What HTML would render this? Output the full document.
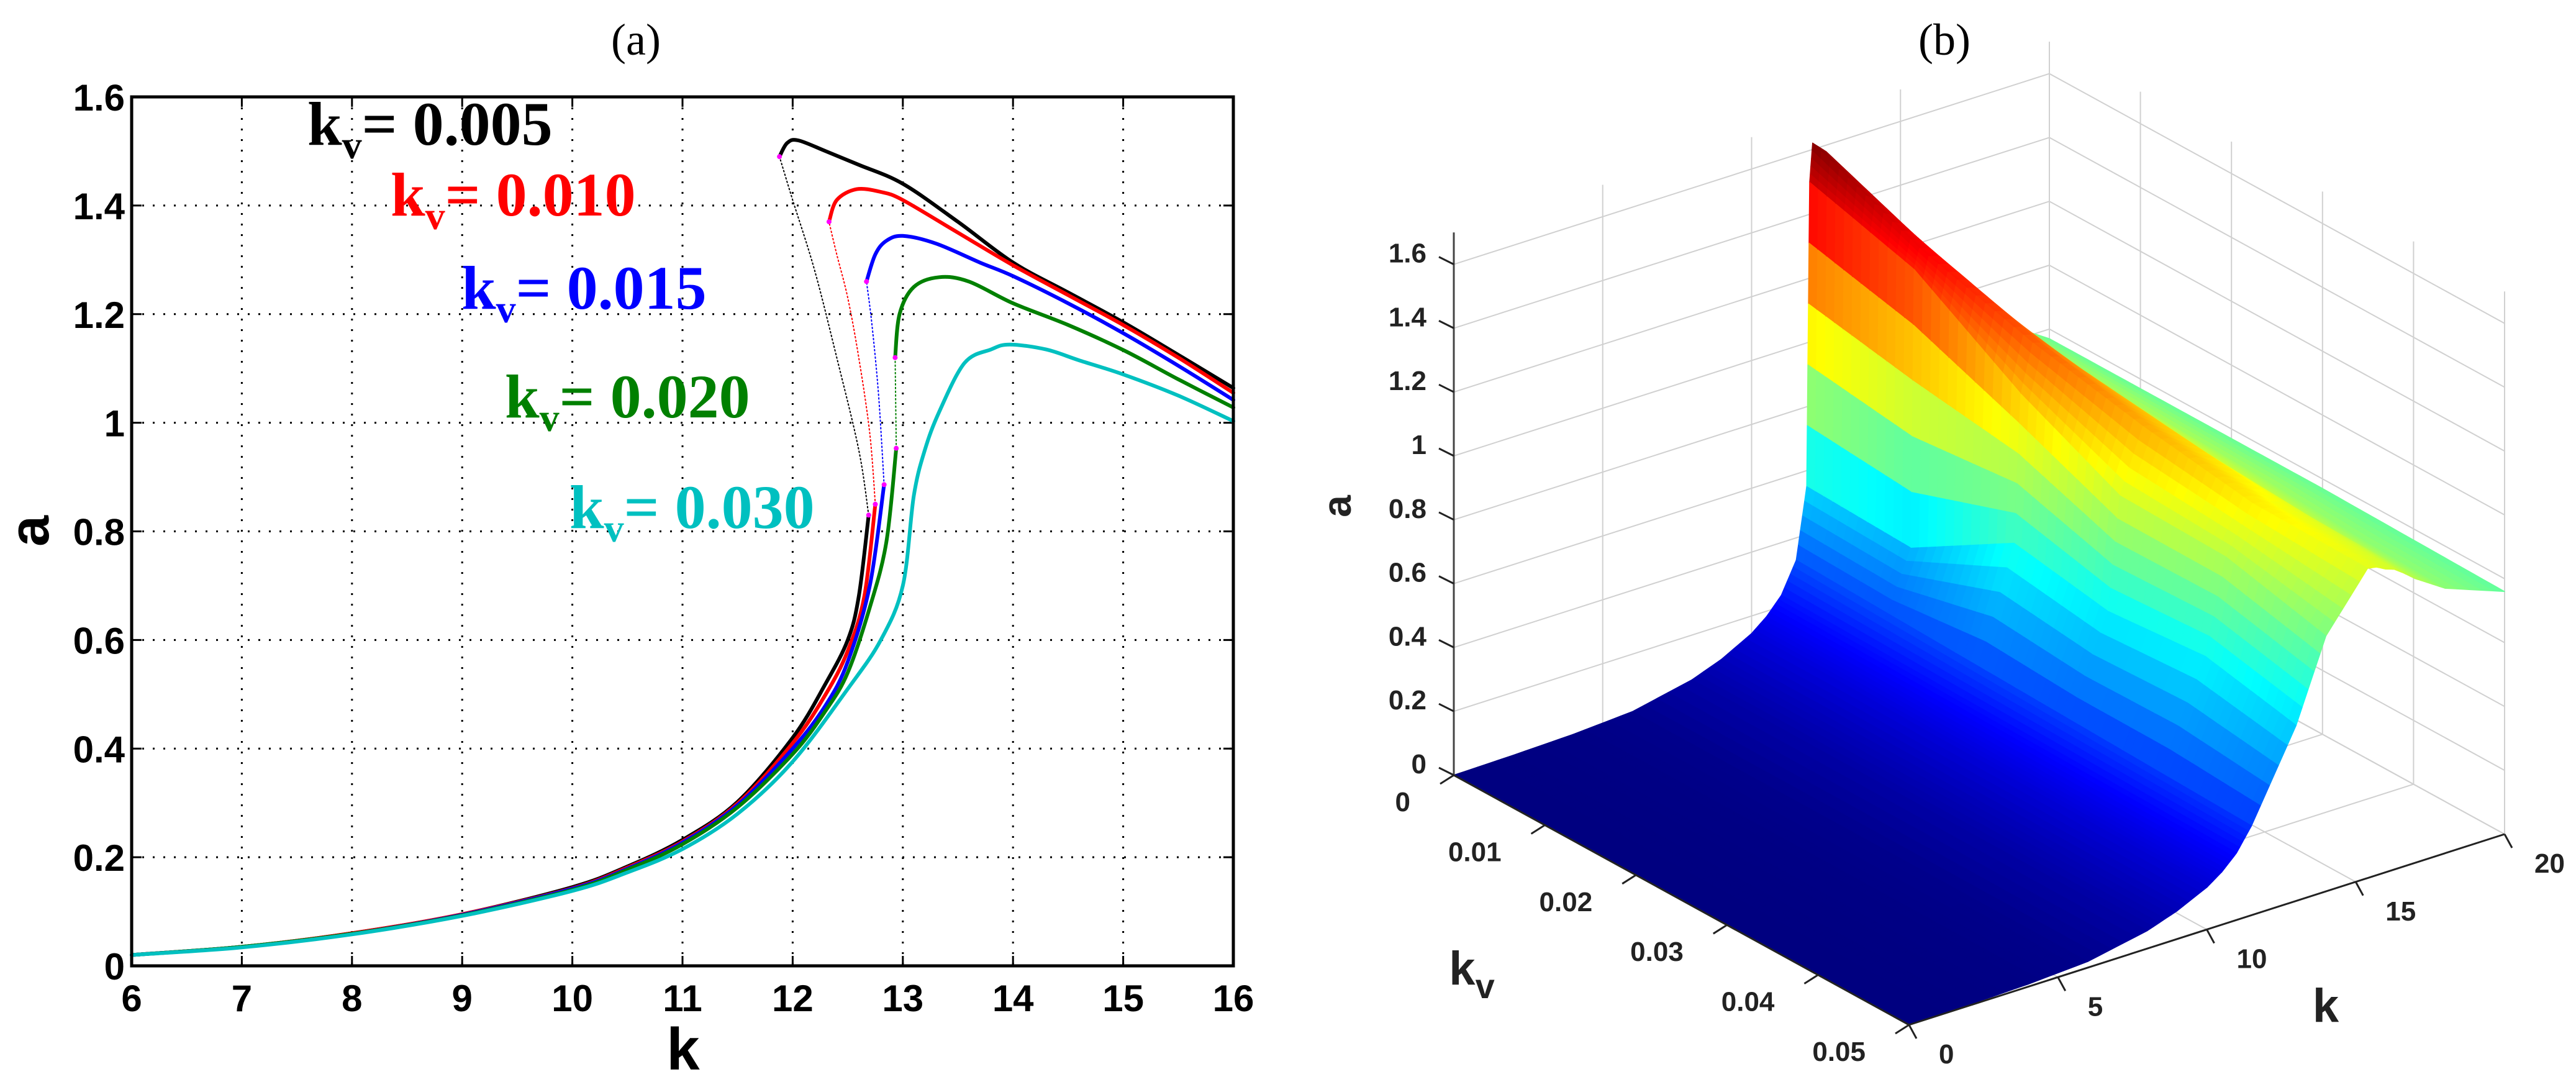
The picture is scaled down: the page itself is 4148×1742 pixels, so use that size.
<!DOCTYPE html>
<html><head><meta charset="utf-8"><style>
html,body{margin:0;padding:0;background:#fff;}
svg{display:block;}
</style></head><body>
<svg id="fig" xmlns="http://www.w3.org/2000/svg" width="4148" height="1742" viewBox="0 0 4148 1742">
<rect width="4148" height="1742" fill="#fff"/>
<g id="left"></g>
<g id="right"></g>
</svg>
<script>
// ---------- Panel (a) data ----------
const xTicks = [6,7,8,9,10,11,12,13,14,15,16];
const yTicks = [0,0.2,0.4,0.6,0.8,1,1.2,1.4,1.6];
const yTickLabels = ["0","0.2","0.4","0.6","0.8","1","1.2","1.4","1.6"];
const seriesNames = ["kv-0.005","kv-0.010","kv-0.015","kv-0.020","kv-0.030"];
const seriesColors = ["#000000","#ff0000","#0000ff","#008000","#00c0c0"];
const legendValues = ["0.005","0.010","0.015","0.020","0.030"];
const k005Lower = [6,7,8,9,10,10.5,11,11.5,12,12.3,12.5,12.6,12.69];
const a005Lower = [0.02,0.035,0.06,0.095,0.145,0.183,0.232,0.302,0.42,0.52,0.6,0.68,0.83];
const k005Unst = [12.69,12.6,12.4,12.2,12.0,11.88];
const a005Unst = [0.83,0.95,1.12,1.28,1.41,1.49];
const k005Upper = [11.88,11.95,12.05,12.3,12.6,13,13.5,14,14.5,15,15.5,16];
const a005Upper = [1.49,1.515,1.52,1.5,1.475,1.44,1.37,1.295,1.24,1.185,1.125,1.064];
const k010Lower = [6,7,8,9,10,10.5,11,11.5,12,12.3,12.5,12.65,12.75];
const a010Lower = [0.02,0.035,0.06,0.095,0.143,0.181,0.229,0.299,0.41,0.5,0.58,0.68,0.85];
const k010Unst = [12.75,12.7,12.6,12.5,12.4,12.33];
const a010Unst = [0.85,0.98,1.12,1.23,1.31,1.37];
const k010Upper = [12.33,12.4,12.58,12.8,13,13.5,14,14.5,15,15.5,16];
const a010Upper = [1.37,1.41,1.43,1.425,1.41,1.35,1.29,1.235,1.18,1.12,1.055];
const k015Lower = [6,7,8,9,10,10.5,11,11.5,12,12.3,12.5,12.7,12.83];
const a015Lower = [0.02,0.035,0.059,0.094,0.142,0.179,0.227,0.296,0.4,0.48,0.56,0.7,0.886];
const k015Unst = [12.83,12.78,12.72,12.67];
const a015Unst = [0.886,1.05,1.18,1.26];
const k015Upper = [12.67,12.75,12.85,13.0,13.3,13.7,14,14.5,15,15.5,16];
const a015Upper = [1.26,1.31,1.335,1.344,1.33,1.295,1.27,1.22,1.165,1.105,1.042];
const k020Lower = [6,7,8,9,10,10.5,11,11.5,12,12.3,12.5,12.7,12.85,12.94];
const a020Lower = [0.02,0.035,0.059,0.093,0.14,0.177,0.224,0.292,0.39,0.47,0.54,0.66,0.78,0.953];
const k020Unst = [12.94,12.93];
const a020Unst = [0.953,1.12];
const k020Upper = [12.93,12.97,13.1,13.33,13.6,14,14.5,15,15.5,16];
const a020Upper = [1.12,1.2,1.25,1.268,1.26,1.22,1.18,1.134,1.08,1.028];
const k030 = [6,7,8,9,10,10.5,11,11.5,12,12.5,12.8,13,13.1,13.2,13.33,13.56,13.8,13.97,14.3,14.6,15,15.5,16];
const a030 = [0.02,0.034,0.058,0.092,0.138,0.172,0.215,0.28,0.376,0.51,0.6,0.7,0.866,0.95,1.02,1.11,1.135,1.144,1.135,1.115,1.089,1.05,1.003];

// ---------- Panel (b) data ----------
const zTicks = [0,0.2,0.4,0.6,0.8,1,1.2,1.4,1.6];
const zTickLabels = ["0","0.2","0.4","0.6","0.8","1","1.2","1.4","1.6"];
const kvTicks = [0,0.01,0.02,0.03,0.04,0.05];
const kvTickLabels = ["0","0.01","0.02","0.03","0.04","0.05"];
const kTicks3 = [0,5,10,15,20];
const kTickLabels3 = ["0","5","10","15","20"];
const surfKv = [0,0.01,0.02,0.03,0.04,0.05];
const surfK0 = [0,2,4,6,8,9,10,10.5,11,11.5,11.85,11.95,12.05,12.5,13,14,15,16,17,18,20];
const surfA0 = [0,0.003,0.008,0.02,0.06,0.095,0.145,0.183,0.235,0.33,0.55,1.5,1.62,1.58,1.5,1.34,1.19,1.07,0.97,0.89,0.77];
const surfK1 = [0,2,4,6,8,9,10,10.5,11,11.5,12.3,12.4,12.58,12.9,13.3,14,15,16,17,18,20];
const surfA1 = [0,0.003,0.008,0.02,0.06,0.095,0.145,0.181,0.23,0.32,0.5,1.37,1.43,1.42,1.38,1.29,1.18,1.055,0.96,0.88,0.77];
const surfK2 = [0,2,4,6,8,9,10,10.5,11,11.5,12.7,12.93,13.33,13.6,13.9,14.3,15,16,17,18,20];
const surfA2 = [0,0.003,0.008,0.02,0.059,0.093,0.14,0.177,0.225,0.31,0.66,1.12,1.268,1.26,1.23,1.2,1.134,1.028,0.94,0.87,0.77];
const surfK3 = [0,2,4,6,8,9,10,10.5,11,11.5,12.8,13.2,13.97,14.2,14.5,14.8,15.2,16,17,18,20];
const surfA3 = [0,0.003,0.008,0.02,0.058,0.092,0.138,0.172,0.22,0.3,0.6,0.95,1.144,1.14,1.12,1.1,1.08,1.003,0.92,0.86,0.77];
const surfK4 = [0,2,4,6,8,9,10,10.5,11,11.5,13,13.7,14.6,14.9,15.2,15.5,15.8,16.3,17,18,20];
const surfA4 = [0,0.003,0.008,0.019,0.057,0.09,0.135,0.168,0.215,0.29,0.61,0.9,1.04,1.035,1.02,1.0,0.99,0.96,0.9,0.84,0.765];
const surfK5 = [0,2,4,6,8,9,10,10.5,11,11.5,13,14,15.4,15.7,16,16.3,16.6,17,17.5,18,20];
const surfA5 = [0,0.003,0.008,0.019,0.056,0.088,0.132,0.165,0.21,0.28,0.55,0.8,0.97,0.965,0.95,0.94,0.92,0.89,0.86,0.83,0.76];
const surfKRows = [surfK0,surfK1,surfK2,surfK3,surfK4,surfK5];
const surfARows = [surfA0,surfA1,surfA2,surfA3,surfA4,surfA5];

const NS = "http://www.w3.org/2000/svg";
function mk(parent, tag, attrs, text){
  const e = document.createElementNS(NS, tag);
  for (const k in attrs) e.setAttribute(k, attrs[k]);
  if (text !== undefined) e.textContent = text;
  parent.appendChild(e);
  return e;
}

// ================= Panel (a) =================
const L = document.getElementById('left');
const X0=212, X1=1986, Y0=1555, Y1=156;
const xs = k => X0 + (k-6)*(X1-X0)/10;
const ys = a => Y0 - a*(Y0-Y1)/1.6;

let t = mk(L,'text',{x:1024,y:88,'font-family':'"Liberation Serif", serif','font-size':72,'text-anchor':'middle'},'(a)');



const grid = mk(L,'g',{});


xTicks.slice(1,-1).forEach(k=>{
  const l = mk(grid,'line',{x1:xs(k),y1:Y1,x2:xs(k),y2:Y0,stroke:'#000','stroke-width':3,'stroke-dasharray':'3 14'});
  
  
});
yTicks.slice(1,-1).forEach(a=>{
  const l = mk(grid,'line',{x1:X0,y1:ys(a),x2:X1,y2:ys(a),stroke:'#000','stroke-width':3,'stroke-dasharray':'3 14'});
  
  
});
xTicks.forEach(k=>{
  let l = mk(L,'line',{x1:xs(k),y1:Y0,x2:xs(k),y2:Y0-16,stroke:'#000','stroke-width':3});
  
  
  l = mk(L,'line',{x1:xs(k),y1:Y1,x2:xs(k),y2:Y1+16,stroke:'#000','stroke-width':3});
  
  
  const tx = mk(L,'text',{x:xs(k),y:1628,'font-family':'"Liberation Sans", sans-serif','font-weight':'bold','font-size':60,'text-anchor':'middle'},String(k));
  
  
});
yTicks.forEach((a,i)=>{
  let l = mk(L,'line',{x1:X0,y1:ys(a),x2:X0+16,y2:ys(a),stroke:'#000','stroke-width':3});
  
  
  l = mk(L,'line',{x1:X1,y1:ys(a),x2:X1-16,y2:ys(a),stroke:'#000','stroke-width':3});
  
  
  const tx = mk(L,'text',{x:201,y:ys(a)+22,'font-family':'"Liberation Sans", sans-serif','font-weight':'bold','font-size':60,'text-anchor':'end'},yTickLabels[i]);
  
  
});
t = mk(L,'text',{x:1100,y:1722,'font-family':'"Liberation Sans", sans-serif','font-weight':'bold','font-size':96,'text-anchor':'middle'},'k');


t = mk(L,'text',{x:0,y:0,'font-family':'"Liberation Sans", sans-serif','font-weight':'bold','font-size':90,'text-anchor':'middle',transform:'translate(78,855) rotate(-90)'},'a');



function smoothPath(ks, as){
  const p = ks.map((k,i)=>[xs(k), ys(as[i])]);
  if (p.length < 3) return 'M'+p.map(q=>q[0].toFixed(1)+','+q[1].toFixed(1)).join(' L');
  let d = 'M'+p[0][0].toFixed(1)+','+p[0][1].toFixed(1);
  for (let i=0;i<p.length-1;i++){
    const p0=p[Math.max(0,i-1)], p1=p[i], p2=p[i+1], p3=p[Math.min(p.length-1,i+2)];
    const c1=[p1[0]+(p2[0]-p0[0])/6, p1[1]+(p2[1]-p0[1])/6];
    const c2=[p2[0]-(p3[0]-p1[0])/6, p2[1]-(p3[1]-p1[1])/6];
    d += ' C'+c1[0].toFixed(1)+','+c1[1].toFixed(1)+' '+c2[0].toFixed(1)+','+c2[1].toFixed(1)+' '+p2[0].toFixed(1)+','+p2[1].toFixed(1);
  }
  return d;
}
function curve(g, ks, as, color, w, dash, name){
  const p = mk(g,'path',{d:smoothPath(ks,as),fill:'none',stroke:color,'stroke-width':w,'stroke-linejoin':'round','stroke-linecap':'round'});
  if (dash) p.setAttribute('stroke-dasharray', dash);
  
  
}
const seriesData = [
  [k005Lower,a005Lower,k005Unst,a005Unst,k005Upper,a005Upper],
  [k010Lower,a010Lower,k010Unst,a010Unst,k010Upper,a010Upper],
  [k015Lower,a015Lower,k015Unst,a015Unst,k015Upper,a015Upper],
  [k020Lower,a020Lower,k020Unst,a020Unst,k020Upper,a020Upper],
];
seriesData.forEach((s,i)=>{
  const g = mk(L,'g',{});
  
  
  curve(g,s[0],s[1],seriesColors[i],6,null,'stable-lower-branch');
  curve(g,s[2],s[3],seriesColors[i],2,'2 4','unstable-branch');
  curve(g,s[4],s[5],seriesColors[i],6,null,'stable-upper-branch');
  [[s[2][0],s[3][0]],[s[2][s[2].length-1],s[3][s[3].length-1]]].forEach(p=>{
    const c = mk(g,'circle',{cx:xs(p[0]),cy:ys(p[1]),r:4,fill:'#ff00ff'});
    
    
  });
});
{
  const g = mk(L,'g',{});
  
  
  curve(g,k030,a030,seriesColors[4],6,null,'stable-branch');
}
t = mk(L,'rect',{x:X0,y:Y1,width:X1-X0,height:Y0-Y1,fill:'none',stroke:'#000','stroke-width':5});


const legPos = [[495,233],[629,347],[743,497],[813,672],[917,850]];
legendValues.forEach((v,i)=>{
  const tx = mk(L,'text',{x:legPos[i][0],y:legPos[i][1],'font-family':'"Liberation Serif", serif','font-weight':'bold','font-size':100,fill:seriesColors[i]});
  
  
  mk(tx,'tspan',{},'k');
  mk(tx,'tspan',{dy:22,'font-size':64},'v');
  mk(tx,'tspan',{dy:-22},'= '+v);
});

// ================= Panel (b) =================
const R = document.getElementById('right');
const OX=2341, OY=1248;
function P(k,kv,a){ return [OX + kv/0.05*733 + k/20*959, OY + kv/0.05*402 - k/20*307 - a*514]; }
t = mk(R,'text',{x:3131,y:88,'font-family':'"Liberation Serif", serif','font-size':72,'text-anchor':'middle'},'(b)');


const ZMAX=1.7;
function gl(g,a,b,name,col,w){
  const l = mk(g,'line',{x1:a[0],y1:a[1],x2:b[0],y2:b[1],stroke:col||'#d0d0d0','stroke-width':w||2});
  
  
}
const g3 = mk(R,'g',{});


zTicks.forEach(z=>{
  gl(g3,P(0,0,z),P(20,0,z),'back-wall-gridline');
  gl(g3,P(20,0,z),P(20,0.05,z),'side-wall-gridline');
});
kTicks3.forEach(k=>{
  gl(g3,P(k,0,0),P(k,0,ZMAX),'back-wall-gridline');
  gl(g3,P(k,0,0),P(k,0.05,0),'floor-gridline');
});
kvTicks.forEach(kv=>{
  gl(g3,P(20,kv,0),P(20,kv,ZMAX),'side-wall-gridline');
  gl(g3,P(0,kv,0),P(20,kv,0),'floor-gridline');
});

function jet(v){
  v = Math.max(0,Math.min(1,v));
  const r = Math.max(0,Math.min(1,1.5-Math.abs(4*v-3)));
  const gg = Math.max(0,Math.min(1,1.5-Math.abs(4*v-2)));
  const b = Math.max(0,Math.min(1,1.5-Math.abs(4*v-1)));
  return 'rgb('+Math.round(r*255)+','+Math.round(gg*255)+','+Math.round(b*255)+')';
}
const amax = Math.max(...surfARows.map(r=>Math.max(...r)));
function lerpRow(rows, ji, vi){
  const nR = rows.length, nC = rows[0].length;
  const i0=Math.min(Math.floor(vi),nR-2), ti=vi-i0;
  const j0=Math.min(Math.floor(ji),nC-2), tj=ji-j0;
  const r0=rows[i0], r1=rows[i0+1];
  const v0=r0[j0]*(1-tj)+r0[j0+1]*tj, v1=r1[j0]*(1-tj)+r1[j0+1]*tj;
  return v0*(1-ti)+v1*ti;
}
function KVat(vi){ const i0=Math.min(Math.floor(vi),surfKv.length-2), ti=vi-i0; return surfKv[i0]*(1-ti)+surfKv[i0+1]*ti; }
const SK=5, SV=12;
const nK=(surfK0.length-1)*SK, nV=(surfKv.length-1)*SV;
const quads=[];
for(let i=0;i<nV;i++){
  for(let j=0;j<nK;j++){
    const vA=i/SV, vB=(i+1)/SV, jA=j/SK, jB=(j+1)/SK;
    const c=[[jA,vA],[jB,vA],[jB,vB],[jA,vB]];
    let sa=0, sk=0, skv=0;
    const pp=c.map(q=>{
      const a=lerpRow(surfARows,q[0],q[1]);
      const k=lerpRow(surfKRows,q[0],q[1]);
      const kv=KVat(q[1]);
      sa+=a; sk+=k; skv+=kv;
      return P(k,kv,a);
    });
    quads.push({pp,a:sa/4,depth:(sk/4)/20-(skv/4)/0.05});
  }
}
quads.sort((p,q)=>q.depth-p.depth);
const sg = mk(R,'g',{});


quads.forEach(q=>{
  const col = jet(q.a/amax);
  const poly = mk(sg,'polygon',{points:q.pp.map(p=>p[0].toFixed(1)+','+p[1].toFixed(1)).join(' '),fill:col,stroke:col,'stroke-width':1.5,'stroke-linejoin':'round'});
  
  
});
gl(R,P(0,0,0),P(0,0,ZMAX),'z-axis','#444',3);
gl(R,P(0,0,0),P(0,0.05,0),'kv-axis','#222',3);
gl(R,P(0,0.05,0),P(20,0.05,0),'k-axis','#222',3);
zTicks.forEach((z,i)=>{
  const p=P(0,0,z);
  gl(R,p,[p[0]-24,p[1]-12],'z-tick','#222',3);
  const tx = mk(R,'text',{x:2297,y:p[1]-3,'font-family':'"Liberation Sans", sans-serif','font-weight':'bold','font-size':44,'text-anchor':'end',fill:'#222'},zTickLabels[i]);
  
  
});
kvTicks.forEach((kv,i)=>{
  const p=P(0,kv,0);
  gl(R,p,[p[0]-22,p[1]+14],'kv-tick','#222',3);
  const tx = mk(R,'text',{x:p[0]-70,y:p[1]+58,'font-family':'"Liberation Sans", sans-serif','font-weight':'bold','font-size':44,'text-anchor':'end',fill:'#222'},kvTickLabels[i]);
  
  
});
kTicks3.forEach((k,i)=>{
  const p=P(k,0.05,0);
  gl(R,p,[p[0]+12,p[1]+22],'k-tick','#222',3);
  const tx = mk(R,'text',{x:p[0]+48,y:p[1]+62,'font-family':'"Liberation Sans", sans-serif','font-weight':'bold','font-size':44,'text-anchor':'start',fill:'#222'},kTickLabels3[i]);
  
  
});
t = mk(R,'text',{x:3745,y:1645,'font-family':'"Liberation Sans", sans-serif','font-weight':'bold','font-size':76,'text-anchor':'middle',fill:'#222'},'k');


t = mk(R,'text',{x:2370,y:1585,'font-family':'"Liberation Sans", sans-serif','font-weight':'bold','font-size':76,'text-anchor':'middle',fill:'#222'});


mk(t,'tspan',{},'k');
mk(t,'tspan',{dy:22,'font-size':56},'v');
t = mk(R,'text',{x:0,y:0,'font-family':'"Liberation Sans", sans-serif','font-weight':'bold','font-size':64,'text-anchor':'middle',fill:'#222',transform:'translate(2175,815) rotate(-90)'},'a');


</script>
</body></html>
